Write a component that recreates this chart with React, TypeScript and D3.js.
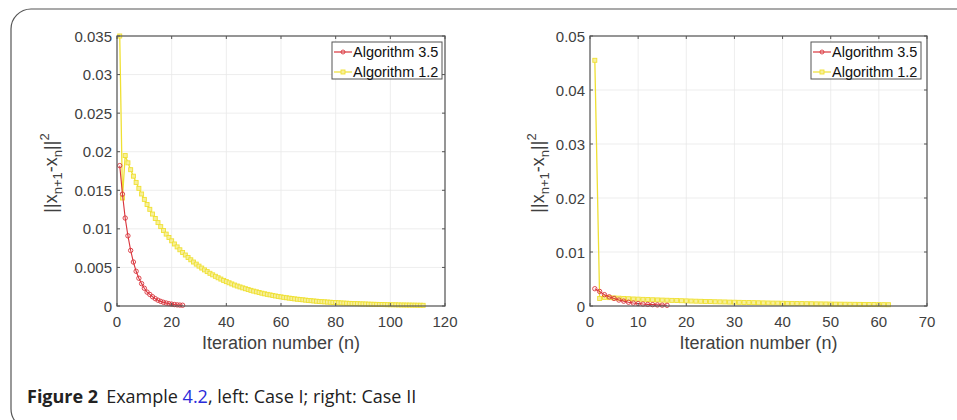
import React from 'react'
import * as d3 from 'd3'

// Case I (left)
const leftRed = [0.0182, 0.0145, 0.0114, 0.0091, 0.0072, 0.0057, 0.0045, 0.0036, 0.0029, 0.0023, 0.0018, 0.0015, 0.0012, 0.00095, 0.00075, 0.0006, 0.00048, 0.00038, 0.0003, 0.00024, 0.00019, 0.00015, 0.00012, 0.0001]
const leftYellow = [0.035, 0.014, 0.0195, 0.01856, 0.01767, 0.01683, 0.01602, 0.01525, 0.01452, 0.01382, 0.01316, 0.01253, 0.01192, 0.01135, 0.01081, 0.01029, 0.00979, 0.00932, 0.00888, 0.00845,
  0.00804, 0.00766, 0.00729, 0.00694, 0.00661, 0.00629, 0.00599, 0.0057, 0.00543, 0.00517, 0.00492, 0.00468, 0.00446, 0.00424, 0.00404, 0.00385, 0.00366, 0.00349, 0.00332, 0.00316,
  0.00301, 0.00286, 0.00272, 0.00259, 0.00247, 0.00235, 0.00224, 0.00213, 0.00203, 0.00193, 0.00184, 0.00175, 0.00166, 0.00158, 0.00151, 0.00144, 0.00137, 0.0013, 0.00124, 0.00118,
  0.00112, 0.00107, 0.00102, 0.00097, 0.00092, 0.00088, 0.00084, 0.0008, 0.00076, 0.00072, 0.00069, 0.00065, 0.00062, 0.00059, 0.00056, 0.00054, 0.00051, 0.00049, 0.00046, 0.00044,
  0.00042, 0.0004, 0.00038, 0.00036, 0.00034, 0.00033, 0.00031, 0.0003, 0.00028, 0.00027, 0.00026, 0.00024, 0.00023, 0.00022, 0.00021, 0.0002, 0.00019, 0.00018, 0.00017, 0.00016,
  0.00016, 0.00015, 0.00014, 0.00013, 0.00013, 0.00012, 0.00012, 0.00011, 0.00011, 0.0001, 0.0001, 0.00009]
const leftXTicks = [0, 20, 40, 60, 80, 100, 120]
const leftYTicks = [0, 0.005, 0.01, 0.015, 0.02, 0.025, 0.03, 0.035]
const leftYLabels = ['0', '0.005', '0.01', '0.015', '0.02', '0.025', '0.03', '0.035']

// Case II (right)
const rightRed = [0.0032, 0.0027, 0.0021, 0.0017, 0.0014, 0.0011, 0.0009, 0.0007, 0.00055, 0.00045, 0.00036, 0.0003, 0.00025, 0.0002, 0.00016, 0.00013]
const rightYellow = [0.0455, 0.0014, 0.0016, 0.00155, 0.0015, 0.00145, 0.0014, 0.00135, 0.0013, 0.00127, 0.00123, 0.0012, 0.00116, 0.00113, 0.0011, 0.00107, 0.00104, 0.00101, 0.00098, 0.00095,
  0.00092, 0.00089, 0.00087, 0.00084, 0.00082, 0.00079, 0.00077, 0.00075, 0.00072, 0.0007, 0.00068, 0.00066, 0.00064, 0.00062, 0.0006, 0.00058, 0.00056, 0.00054, 0.00053, 0.00051,
  0.00049, 0.00048, 0.00046, 0.00045, 0.00043, 0.00042, 0.0004, 0.00039, 0.00038, 0.00036, 0.00035, 0.00034, 0.00033, 0.00032, 0.00031, 0.0003, 0.00029, 0.00028, 0.00027, 0.00026,
  0.00025, 0.00024]
const rightXTicks = [0, 10, 20, 30, 40, 50, 60, 70]
const rightYTicks = [0, 0.01, 0.02, 0.03, 0.04, 0.05]
const rightYLabels = ['0', '0.01', '0.02', '0.03', '0.04', '0.05']

const seriesNames = ['Algorithm 3.5', 'Algorithm 1.2']
const RED = '#d9343c'
const YELLOW = '#efe033'
const FONT = '"Liberation Sans", Arial, sans-serif'

function Panel({ x0, x1, y0, y1, xMax, yMax, xTicks, yTicks, yLabels, red, yellow, labelX, legendRight }) {
  const x = d3.scaleLinear().domain([0, xMax]).range([x0, x1])
  const y = d3.scaleLinear().domain([0, yMax]).range([y1, y0])
  const line = d3.line<number>().x((d, i) => x(i + 1)).y(d => y(d))
  const cx = (x0 + x1) / 2
  const cy = (y0 + y1) / 2
  const legW = 110
  return (
    <g fontFamily={FONT}>
      {/* grid */}
      {xTicks.map(t => <line key={'gx' + t} x1={x(t)} x2={x(t)} y1={y0} y2={y1} stroke="#e8e8e8" strokeWidth={0.8} />)}
      {yTicks.map(t => <line key={'gy' + t} x1={x0} x2={x1} y1={y(t)} y2={y(t)} stroke="#e8e8e8" strokeWidth={0.8} />)}
      {/* data */}
      <path d={line(yellow)} fill="none" stroke={YELLOW} strokeWidth={1.3} />
      {yellow.map((d, i) => <rect key={'ys' + i} x={x(i + 1) - 2} y={y(d) - 2} width={4} height={4} fill="#f7ef9a" stroke={YELLOW} strokeWidth={0.9} />)}
      <path d={line(red)} fill="none" stroke={RED} strokeWidth={1.1} />
      {red.map((d, i) => <circle key={'rc' + i} cx={x(i + 1)} cy={y(d)} r={2.2} fill="none" stroke={RED} strokeWidth={0.9} />)}
      {/* box */}
      <rect x={x0} y={y0} width={x1 - x0} height={y1 - y0} fill="none" stroke="#555" strokeWidth={1.2} />
      {xTicks.map(t => <g key={'tx' + t}>
        <line x1={x(t)} x2={x(t)} y1={y1} y2={y1 - 3} stroke="#555" />
        <line x1={x(t)} x2={x(t)} y1={y0} y2={y0 + 3} stroke="#555" />
        <text x={x(t)} y={y1 + 21} textAnchor="middle" fontSize={15} fill="#404040">{t}</text>
      </g>)}
      {yTicks.map((t, i) => <g key={'ty' + t}>
        <line x1={x0} x2={x0 + 3} y1={y(t)} y2={y(t)} stroke="#555" />
        <line x1={x1} x2={x1 - 3} y1={y(t)} y2={y(t)} stroke="#555" />
        <text x={x0 - 5} y={y(t) + 5.5} textAnchor="end" fontSize={15} fill="#404040">{yLabels[i]}</text>
      </g>)}
      <text x={cx} y={y1 + 43} textAnchor="middle" fontSize={18} fill="#404040">Iteration number (n)</text>
      <text transform={`translate(${labelX},${cy + 2}) rotate(-90)`} textAnchor="middle" fontSize={18} fill="#404040">
        ||x<tspan fontSize={13} dy={5}>n+1</tspan><tspan dy={-5}>-x</tspan><tspan fontSize={13} dy={5}>n</tspan><tspan dy={-5}>||</tspan><tspan fontSize={13} dy={-8}>2</tspan>
      </text>
      {/* legend */}
      <g transform={`translate(${legendRight - legW},42)`}>
        <rect x={0} y={0} width={legW} height={37} fill="#fff" stroke="#555" strokeWidth={1} />
        {seriesNames.map((name, i) => <g key={name} transform={`translate(0,${10 + i * 20})`}>
          <line x1={2} x2={20} y1={0} y2={0} stroke={i === 0 ? RED : YELLOW} strokeWidth={1.2} />
          {i === 0
            ? <circle cx={11} cy={0} r={2} fill="none" stroke={RED} strokeWidth={0.9} />
            : <rect x={9} y={-2} width={4} height={4} fill="#f7ef9a" stroke={YELLOW} strokeWidth={0.9} />}
          <text x={21} y={5} fontSize={14.5} fill="#111">{name}</text>
        </g>)}
      </g>
    </g>
  )
}

export default function App() {
  return (
    <div style={{ position: 'absolute', left: 0, top: 0 }}>
      <svg width={957} height={420} style={{ display: 'block', background: '#fff' }}>
        <rect x={11} y={9} width={1000} height={420} rx={20} ry={20} fill="none" stroke="#555" strokeWidth={1.2} />
        <Panel x0={117} x1={445} y0={36} y1={306} xMax={120} yMax={0.035} xTicks={leftXTicks} yTicks={leftYTicks} yLabels={leftYLabels} red={leftRed} yellow={leftYellow} labelX={57} legendRight={442} />
        <Panel x0={590} x1={927} y0={36} y1={306} xMax={70} yMax={0.05} xTicks={rightXTicks} yTicks={rightYTicks} yLabels={rightYLabels} red={rightRed} yellow={rightYellow} labelX={544} legendRight={921} />
        <text x={27} y={403} fontFamily='"Open Sans", sans-serif' fontSize={18} fill="#222">
          <tspan fontWeight="bold">Figure 2</tspan>
          <tspan dx={8}>Example </tspan>
          <tspan fill="#2b2bd9">4.2</tspan>
          <tspan>, left: Case I; right: Case II</tspan>
        </text>
      </svg>
    </div>
  )
}
